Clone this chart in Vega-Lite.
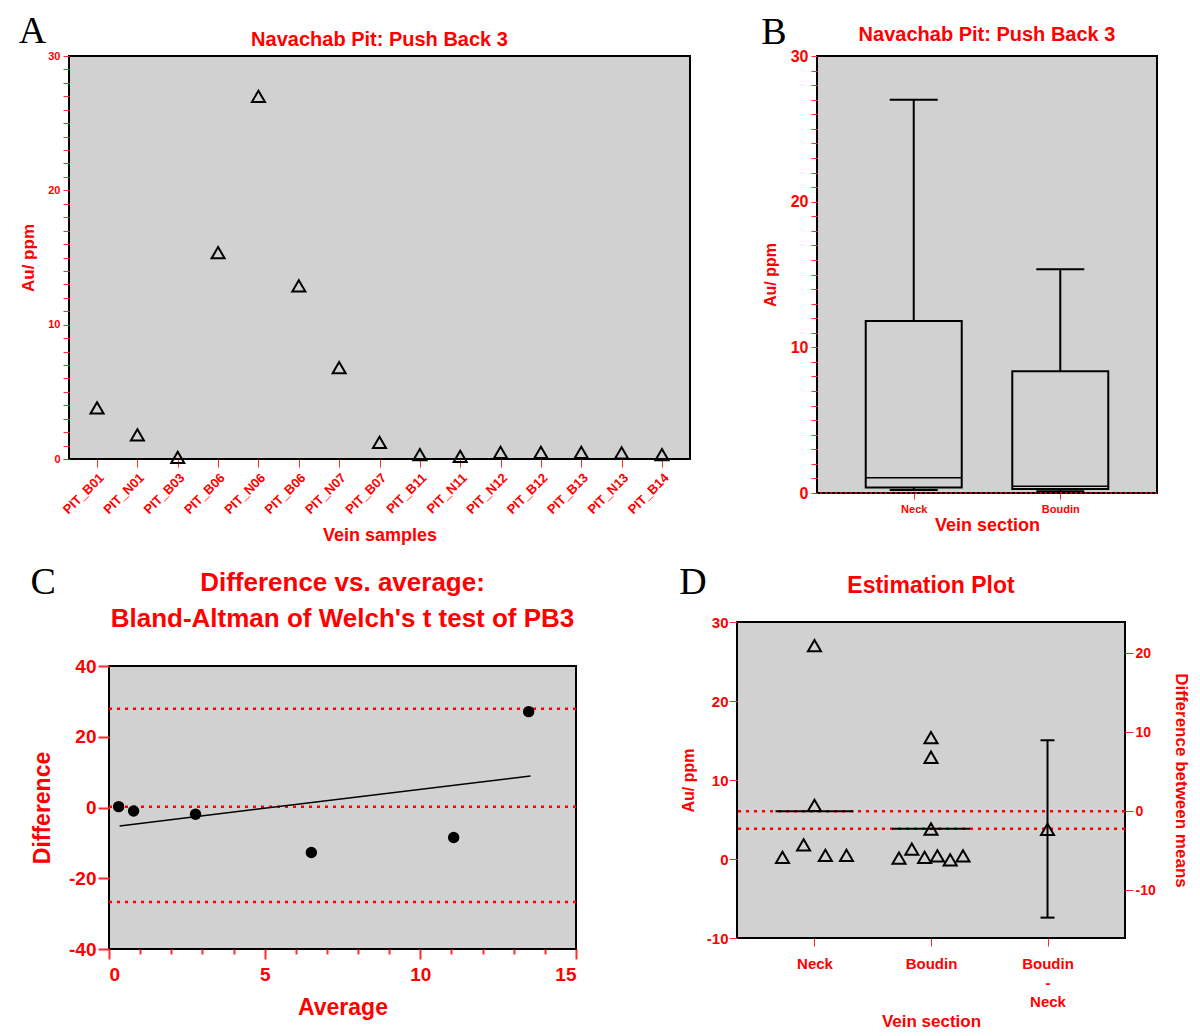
{
  "$schema": "https://vega.github.io/schema/vega-lite/v6.json",
  "background": "white",
  "padding": {"left": 11, "top": 13, "right": 2, "bottom": 2},
  "config": {
    "font": "Liberation Sans",
    "view": {"fill": "#d1d1d1", "stroke": "black", "strokeWidth": 2},
    "axis": {"labelColor": "#ff0000", "titleColor": "#ff0000", "labelFontWeight": "bold", "titleFontWeight": "bold", "tickColor": "#ff2a2a", "domain": false, "grid": false, "labelFont": "Liberation Sans", "titleFont": "Liberation Sans"},
    "title": {"color": "#ff0000", "fontWeight": "bold", "font": "Liberation Sans"}
  },
  "spacing": 16,
  "vconcat": [
    {
      "spacing": 0,
      "hconcat": [
        {"width": 1, "height": 1, "data": {"values": [{"a": 0}]}, "mark": {"type": "point", "opacity": 0}, "view": {"stroke": null, "fill": null}},
        {
          "spacing": 70,
          "hconcat": [
            {
              "title": {"text": "A", "anchor": "start", "font": "Liberation Serif", "fontSize": 38, "fontWeight": "normal", "color": "black", "offset": 0, "dy": 22},
              "vconcat": [
                {
                  "width": 621, "height": 403,
                  "title": {"text": "Navachab Pit: Push Back 3", "fontSize": 20, "offset": 0},
                  "data": {"values": [
                    {"sample": "PIT_B01", "au": 3.8},
                    {"sample": "PIT_N01", "au": 1.8},
                    {"sample": "PIT_B03", "au": 0.12},
                    {"sample": "PIT_B06", "au": 15.36},
                    {"sample": "PIT_N06", "au": 27.0},
                    {"sample": "PIT_B06|2", "au": 12.88},
                    {"sample": "PIT_N07", "au": 6.8},
                    {"sample": "PIT_B07", "au": 1.24},
                    {"sample": "PIT_B11", "au": 0.32},
                    {"sample": "PIT_N11", "au": 0.2},
                    {"sample": "PIT_N12", "au": 0.49},
                    {"sample": "PIT_B12", "au": 0.49},
                    {"sample": "PIT_B13", "au": 0.49},
                    {"sample": "PIT_N13", "au": 0.45},
                    {"sample": "PIT_B14", "au": 0.32}
                  ]},
                  "mark": {"type": "point", "shape": "triangle-up", "filled": false, "stroke": "black", "strokeWidth": 2, "size": 170, "opacity": 1},
                  "encoding": {
                    "x": {"field": "sample", "type": "nominal", "sort": null, "scale": {"type": "point", "padding": 0.695},
                      "axis": {"title": "Vein samples", "labelAngle": -45, "labelExpr": "split(datum.label,'|')[0]", "labelFontSize": 13, "titleFontSize": 18, "tickSize": 8, "labelPadding": 4, "titlePadding": 10}},
                    "y": {"field": "au", "type": "quantitative", "scale": {"domain": [0, 30], "nice": false},
                      "axis": {"title": "Au/ ppm", "values": [0,1,2,3,4,5,6,7,8,9,10,11,12,13,14,15,16,17,18,19,20,21,22,23,24,25,26,27,28,29,30], "labelExpr": "datum.value % 10 == 0 ? datum.label : ''", "labelOverlap": false, "labelFontSize": 11, "titleFontSize": 17, "tickSize": 6, "labelPadding": 3, "titlePadding": 10}}
                  }
                }
              ]
            },
            {
              "title": {"text": "B", "anchor": "start", "font": "Liberation Serif", "fontSize": 38, "fontWeight": "normal", "color": "black", "offset": 0, "dy": 28},
              "vconcat": [
                {
                  "width": 340, "height": 437,
                  "title": {"text": "Navachab Pit: Push Back 3", "fontSize": 20, "offset": 3},
                  "data": {"values": [
                    {"section": "Neck", "min": 0.2, "q1": 0.37, "median": 1.05, "q3": 11.8, "max": 27.0},
                    {"section": "Boudin", "min": 0.12, "q1": 0.28, "median": 0.46, "q3": 8.35, "max": 15.36}
                  ]},
                  "layer": [
                    {"mark": {"type": "rule", "stroke": "black", "strokeWidth": 2},
                      "encoding": {
                        "x": {"field": "section", "type": "nominal", "title": "Vein section", "sort": ["Neck", "Boudin"], "scale": {"type": "point", "padding": 0.66},
                          "axis": {"labelAngle": 0, "labelFontSize": 11, "titleFontSize": 18, "tickSize": 6, "labelPadding": 4, "titlePadding": 2}},
                        "y": {"field": "min", "type": "quantitative", "title": "Au/ ppm", "scale": {"domain": [0, 30], "nice": false},
                          "axis": {"values": [0,1,2,3,4,5,6,7,8,9,10,11,12,13,14,15,16,17,18,19,20,21,22,23,24,25,26,27,28,29,30], "labelExpr": "datum.value % 10 == 0 ? datum.label : ''", "labelOverlap": false, "labelFontSize": 16, "titleFontSize": 16, "tickSize": 6, "labelPadding": 3, "titlePadding": 12}},
                        "y2": {"field": "max"}
                      }},
                    {"mark": {"type": "bar", "size": 96, "fill": "#d1d1d1", "stroke": "black", "strokeWidth": 2},
                      "encoding": {
                        "x": {"field": "section", "type": "nominal", "title": "Vein section", "sort": ["Neck", "Boudin"], "scale": {"type": "point", "padding": 0.66},
                          "axis": {"labelAngle": 0, "labelFontSize": 11, "titleFontSize": 18, "tickSize": 6, "labelPadding": 4, "titlePadding": 2}},
                        "y": {"field": "q1", "type": "quantitative", "title": "Au/ ppm",
                          "axis": {"values": [0,1,2,3,4,5,6,7,8,9,10,11,12,13,14,15,16,17,18,19,20,21,22,23,24,25,26,27,28,29,30], "labelExpr": "datum.value % 10 == 0 ? datum.label : ''", "labelOverlap": false, "labelFontSize": 16, "titleFontSize": 16, "tickSize": 6, "labelPadding": 3, "titlePadding": 12}},
                        "y2": {"field": "q3"}
                      }},
                    {"mark": {"type": "tick", "size": 96, "thickness": 1.5, "color": "black", "opacity": 1},
                      "encoding": {
                        "x": {"field": "section", "type": "nominal", "title": "Vein section", "sort": ["Neck", "Boudin"],
                          "axis": {"labelAngle": 0, "labelFontSize": 11, "titleFontSize": 18, "tickSize": 6, "labelPadding": 4, "titlePadding": 2}},
                        "y": {"field": "median", "type": "quantitative", "title": "Au/ ppm",
                          "axis": {"values": [0,1,2,3,4,5,6,7,8,9,10,11,12,13,14,15,16,17,18,19,20,21,22,23,24,25,26,27,28,29,30], "labelExpr": "datum.value % 10 == 0 ? datum.label : ''", "labelOverlap": false, "labelFontSize": 16, "titleFontSize": 16, "tickSize": 6, "labelPadding": 3, "titlePadding": 12}}
                      }},
                    {"mark": {"type": "tick", "size": 48, "thickness": 2, "color": "black", "opacity": 1},
                      "encoding": {
                        "x": {"field": "section", "type": "nominal", "title": "Vein section", "sort": ["Neck", "Boudin"],
                          "axis": {"labelAngle": 0, "labelFontSize": 11, "titleFontSize": 18, "tickSize": 6, "labelPadding": 4, "titlePadding": 2}},
                        "y": {"field": "max", "type": "quantitative", "title": "Au/ ppm",
                          "axis": {"values": [0,1,2,3,4,5,6,7,8,9,10,11,12,13,14,15,16,17,18,19,20,21,22,23,24,25,26,27,28,29,30], "labelExpr": "datum.value % 10 == 0 ? datum.label : ''", "labelOverlap": false, "labelFontSize": 16, "titleFontSize": 16, "tickSize": 6, "labelPadding": 3, "titlePadding": 12}}
                      }},
                    {"mark": {"type": "tick", "size": 48, "thickness": 2, "color": "black", "opacity": 1},
                      "encoding": {
                        "x": {"field": "section", "type": "nominal", "title": "Vein section", "sort": ["Neck", "Boudin"],
                          "axis": {"labelAngle": 0, "labelFontSize": 11, "titleFontSize": 18, "tickSize": 6, "labelPadding": 4, "titlePadding": 2}},
                        "y": {"field": "min", "type": "quantitative", "title": "Au/ ppm",
                          "axis": {"values": [0,1,2,3,4,5,6,7,8,9,10,11,12,13,14,15,16,17,18,19,20,21,22,23,24,25,26,27,28,29,30], "labelExpr": "datum.value % 10 == 0 ? datum.label : ''", "labelOverlap": false, "labelFontSize": 16, "titleFontSize": 16, "tickSize": 6, "labelPadding": 3, "titlePadding": 12}}
                      }},
                    {"data": {"values": [{"ref": 0}]},
                      "mark": {"type": "rule", "color": "#ff0000", "strokeDash": [2, 3], "strokeWidth": 1.5},
                      "encoding": {"y": {"field": "ref", "type": "quantitative", "title": "Au/ ppm",
                          "axis": {"values": [0,1,2,3,4,5,6,7,8,9,10,11,12,13,14,15,16,17,18,19,20,21,22,23,24,25,26,27,28,29,30], "labelExpr": "datum.value % 10 == 0 ? datum.label : ''", "labelOverlap": false, "labelFontSize": 16, "titleFontSize": 16, "tickSize": 6, "labelPadding": 3, "titlePadding": 12}}}}
                  ]
                }
              ]
            }
          ]
        }
      ]
    },
    {
      "spacing": 12,
      "hconcat": [
        {"width": 1, "height": 1, "data": {"values": [{"a": 0}]}, "mark": {"type": "point", "opacity": 0}, "view": {"stroke": null, "fill": null}},
        {
          "spacing": 100,
          "hconcat": [
            {
              "title": {"text": "C", "anchor": "start", "font": "Liberation Serif", "fontSize": 38, "fontWeight": "normal", "color": "black", "offset": 0, "dy": 39},
              "spacing": 0,
              "vconcat": [
                {"width": 1, "height": 1, "data": {"values": [{"a": 0}]}, "mark": {"type": "point", "opacity": 0}, "view": {"stroke": null, "fill": null}},
                {
                  "width": 467, "height": 283,
                  "title": {"text": ["Difference vs. average:", "Bland-Altman of Welch's t test of PB3"], "fontSize": 26, "lineHeight": 36, "offset": 25},
                  "layer": [
                    {"data": {"values": [{"d": 27.9}, {"d": 0.2}, {"d": -26.7}]},
                      "mark": {"type": "rule", "color": "#ff0000", "strokeDash": [3, 5], "strokeWidth": 2.5},
                      "encoding": {"y": {"field": "d", "type": "quantitative", "title": "Difference", "scale": {"domain": [-40, 40], "nice": false},
                        "axis": {"values": [-40, -20, 0, 20, 40], "labelExpr": "toString(datum.value)", "labelFontSize": 19, "titleFontSize": 23, "tickSize": 11, "tickWidth": 2, "labelPadding": 2, "titlePadding": 14}}}},
                    {"data": {"values": [{"avg": 0.34, "diff": -5.2}, {"avg": 13.54, "diff": 8.9}]},
                      "mark": {"type": "line", "color": "black", "strokeWidth": 1.5},
                      "encoding": {
                        "x": {"field": "avg", "type": "quantitative", "title": "Average", "scale": {"domain": [0, 15], "nice": false},
                          "axis": {"values": [0,1,2,3,4,5,6,7,8,9,10,11,12,13,14,15], "labelExpr": "datum.value % 5 == 0 ? datum.label : ''", "labelOverlap": false, "labelFontSize": 19, "titleFontSize": 23, "tickSize": {"condition": {"test": "datum.value % 5 == 0", "value": 10}, "value": 5}, "tickWidth": 2, "labelPadding": 6, "titlePadding": 12}},
                        "y": {"field": "diff", "type": "quantitative", "title": "Difference",
                          "axis": {"values": [-40, -20, 0, 20, 40], "labelExpr": "toString(datum.value)", "labelFontSize": 19, "titleFontSize": 23, "tickSize": 11, "tickWidth": 2, "labelPadding": 2, "titlePadding": 14}}
                      }},
                    {"data": {"values": [
                        {"avg": 0.31, "diff": 0.25},
                        {"avg": 0.79, "diff": -1.0},
                        {"avg": 2.78, "diff": -1.9},
                        {"avg": 6.5, "diff": -12.7},
                        {"avg": 11.07, "diff": -8.5},
                        {"avg": 13.48, "diff": 27.1}
                      ]},
                      "mark": {"type": "circle", "color": "black", "size": 130, "opacity": 1},
                      "encoding": {
                        "x": {"field": "avg", "type": "quantitative", "title": "Average",
                          "axis": {"values": [0,1,2,3,4,5,6,7,8,9,10,11,12,13,14,15], "labelExpr": "datum.value % 5 == 0 ? datum.label : ''", "labelOverlap": false, "labelFontSize": 19, "titleFontSize": 23, "tickSize": {"condition": {"test": "datum.value % 5 == 0", "value": 10}, "value": 5}, "tickWidth": 2, "labelPadding": 6, "titlePadding": 12}},
                        "y": {"field": "diff", "type": "quantitative", "title": "Difference",
                          "axis": {"values": [-40, -20, 0, 20, 40], "labelExpr": "toString(datum.value)", "labelFontSize": 19, "titleFontSize": 23, "tickSize": 11, "tickWidth": 2, "labelPadding": 2, "titlePadding": 14}}
                      }}
                  ]
                }
              ]
            },
            {
              "title": {"text": "D", "anchor": "start", "font": "Liberation Serif", "fontSize": 38, "fontWeight": "normal", "color": "black", "offset": 0, "dy": 37},
              "spacing": 0,
              "vconcat": [
                {"width": 1, "height": 9, "data": {"values": [{"a": 0}]}, "mark": {"type": "point", "opacity": 0}, "view": {"stroke": null, "fill": null}},
                {
                  "width": 388, "height": 316,
                  "title": {"text": "Estimation Plot", "fontSize": 23, "offset": 17},
                  "resolve": {"scale": {"y": "independent"}},
                  "layer": [
                    {
                      "layer": [
                        {"data": {"values": [{"m": 6.05}, {"m": 3.83}]},
                          "mark": {"type": "rule", "color": "#ff0000", "strokeDash": [3, 5], "strokeWidth": 2.5},
                          "encoding": {"y": {"field": "m", "type": "quantitative", "title": "Au/ ppm", "scale": {"domain": [-10, 30], "nice": false},
                            "axis": {"values": [-10, 0, 10, 20, 30], "labelExpr": "toString(datum.value)", "labelFontSize": 15, "titleFontSize": 16, "tickSize": 8, "labelPadding": 1, "titlePadding": 10}}}},
                        {"data": {"values": [{"group": "Neck", "m": 6.05}, {"group": "Boudin", "m": 3.83}]},
                          "mark": {"type": "tick", "size": 78, "thickness": 2, "color": "black", "opacity": 1},
                          "encoding": {
                            "x": {"field": "group", "type": "nominal", "title": "Vein section", "sort": ["Neck", "Boudin", "Boudin - Neck"], "scale": {"type": "point", "padding": 0.665, "domain": ["Neck", "Boudin", "Boudin - Neck"]},
                              "axis": {"labelAngle": 0, "labelExpr": "datum.value == 'Boudin - Neck' ? ['Boudin','-','Neck'] : datum.label", "labelLineHeight": 19, "labelFontSize": 15, "titleFontSize": 17, "tickSize": 8, "labelPadding": 10, "titlePadding": 4}},
                            "y": {"field": "m", "type": "quantitative", "title": "Au/ ppm",
                              "axis": {"values": [-10, 0, 10, 20, 30], "labelExpr": "toString(datum.value)", "labelFontSize": 15, "titleFontSize": 16, "tickSize": 8, "labelPadding": 1, "titlePadding": 10}}
                          }},
                        {"data": {"values": [
                            {"group": "Neck", "jit": 0, "au": 27.0},
                            {"group": "Neck", "jit": 0, "au": 6.8},
                            {"group": "Neck", "jit": -1, "au": 0.2},
                            {"group": "Neck", "jit": -0.34, "au": 1.8},
                            {"group": "Neck", "jit": 0.34, "au": 0.45},
                            {"group": "Neck", "jit": 1, "au": 0.45},
                            {"group": "Boudin", "jit": 0, "au": 15.36},
                            {"group": "Boudin", "jit": 0, "au": 12.88},
                            {"group": "Boudin", "jit": 0, "au": 3.8},
                            {"group": "Boudin", "jit": -1, "au": 0.1},
                            {"group": "Boudin", "jit": -0.6, "au": 1.24},
                            {"group": "Boudin", "jit": -0.2, "au": 0.2},
                            {"group": "Boudin", "jit": 0.2, "au": 0.4},
                            {"group": "Boudin", "jit": 0.6, "au": -0.1},
                            {"group": "Boudin", "jit": 1, "au": 0.4}
                          ]},
                          "mark": {"type": "point", "shape": "triangle-up", "filled": false, "stroke": "black", "strokeWidth": 2, "size": 170, "opacity": 1},
                          "encoding": {
                            "x": {"field": "group", "type": "nominal", "title": "Vein section", "sort": ["Neck", "Boudin", "Boudin - Neck"],
                              "axis": {"labelAngle": 0, "labelExpr": "datum.value == 'Boudin - Neck' ? ['Boudin','-','Neck'] : datum.label", "labelLineHeight": 19, "labelFontSize": 15, "titleFontSize": 17, "tickSize": 8, "labelPadding": 10, "titlePadding": 4}},
                            "xOffset": {"field": "jit", "type": "quantitative", "scale": {"domain": [-1, 1], "range": [-32, 32]}},
                            "y": {"field": "au", "type": "quantitative", "title": "Au/ ppm",
                              "axis": {"values": [-10, 0, 10, 20, 30], "labelExpr": "toString(datum.value)", "labelFontSize": 15, "titleFontSize": 16, "tickSize": 8, "labelPadding": 1, "titlePadding": 10}}
                          }}
                      ]
                    },
                    {
                      "data": {"values": [{"group": "Boudin - Neck", "mean": -2.3, "lo": -13.47, "hi": 8.98}]},
                      "layer": [
                        {"mark": {"type": "rule", "color": "black", "strokeWidth": 2},
                          "encoding": {
                            "x": {"field": "group", "type": "nominal", "title": "Vein section", "sort": ["Neck", "Boudin", "Boudin - Neck"],
                              "axis": {"labelAngle": 0, "labelExpr": "datum.value == 'Boudin - Neck' ? ['Boudin','-','Neck'] : datum.label", "labelLineHeight": 19, "labelFontSize": 15, "titleFontSize": 17, "tickSize": 8, "labelPadding": 10, "titlePadding": 4}},
                            "y": {"field": "lo", "type": "quantitative", "title": "Difference between means", "scale": {"domain": [-16.05, 23.95], "nice": false, "zero": false},
                              "axis": {"orient": "right", "values": [-10, 0, 10, 20], "labelExpr": "toString(datum.value)", "labelFontSize": 14, "titleFontSize": 17, "tickSize": 8, "labelPadding": 2, "titlePadding": 16}},
                            "y2": {"field": "hi"}
                          }},
                        {"mark": {"type": "tick", "size": 14, "thickness": 2, "color": "black", "opacity": 1},
                          "encoding": {
                            "x": {"field": "group", "type": "nominal", "title": "Vein section", "sort": ["Neck", "Boudin", "Boudin - Neck"]},
                            "y": {"field": "lo", "type": "quantitative", "title": "Difference between means",
                              "axis": {"orient": "right", "values": [-10, 0, 10, 20], "labelExpr": "toString(datum.value)", "labelFontSize": 14, "titleFontSize": 17, "tickSize": 8, "labelPadding": 2, "titlePadding": 16}}
                          }},
                        {"mark": {"type": "tick", "size": 14, "thickness": 2, "color": "black", "opacity": 1},
                          "encoding": {
                            "x": {"field": "group", "type": "nominal", "title": "Vein section", "sort": ["Neck", "Boudin", "Boudin - Neck"]},
                            "y": {"field": "hi", "type": "quantitative", "title": "Difference between means",
                              "axis": {"orient": "right", "values": [-10, 0, 10, 20], "labelExpr": "toString(datum.value)", "labelFontSize": 14, "titleFontSize": 17, "tickSize": 8, "labelPadding": 2, "titlePadding": 16}}
                          }},
                        {"mark": {"type": "point", "shape": "triangle-up", "filled": false, "stroke": "black", "strokeWidth": 2, "size": 170, "opacity": 1},
                          "encoding": {
                            "x": {"field": "group", "type": "nominal", "title": "Vein section", "sort": ["Neck", "Boudin", "Boudin - Neck"]},
                            "y": {"field": "mean", "type": "quantitative", "title": "Difference between means",
                              "axis": {"orient": "right", "values": [-10, 0, 10, 20], "labelExpr": "toString(datum.value)", "labelFontSize": 14, "titleFontSize": 17, "tickSize": 8, "labelPadding": 2, "titlePadding": 16}}
                          }}
                      ]
                    }
                  ]
                }
              ]
            }
          ]
        }
      ]
    }
  ]
}
